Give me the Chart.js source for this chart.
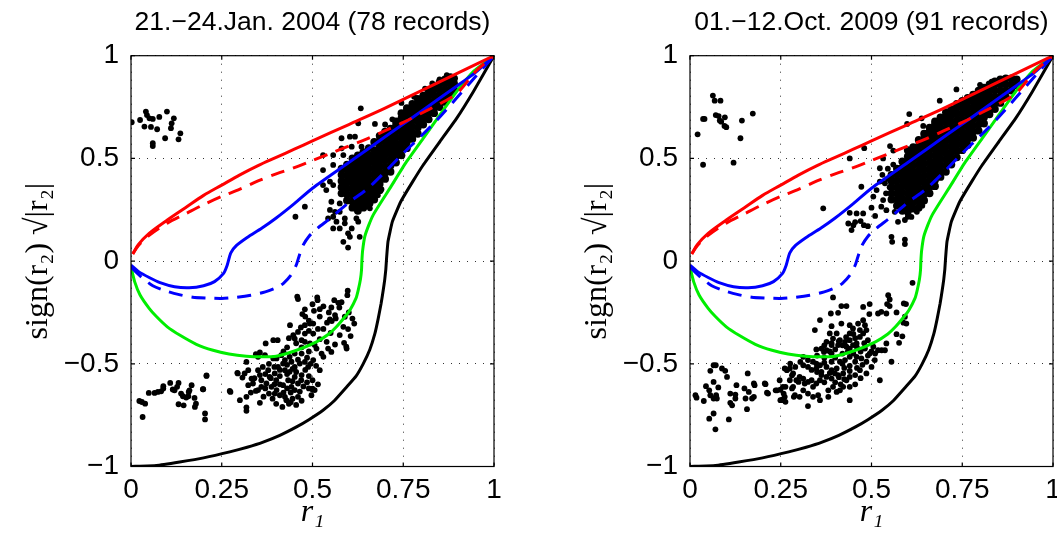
<!DOCTYPE html>
<html>
<head>
<meta charset="utf-8">
<script src="https://cdn.jsdelivr.net/npm/chart.js@4.4.0/dist/chart.umd.min.js"></script>
<style>
  html, body { margin: 0; padding: 0; width: 1057px; height: 534px; overflow: hidden; background: #fff; }
  .panel { position: absolute; top: 0; width: 530px; height: 534px; }
</style>
</head>
<body>
<div class="panel" style="left:0"><canvas id="jan" width="530" height="534"></canvas></div>
<div class="panel" style="left:559px"><canvas id="oct" width="530" height="534"></canvas></div>
<script>
// model curves (same on both panels), [r1, sign(r2)*sqrt|r2|]
const redSolid = [[0.005,0.035],[0.02,0.08],[0.05,0.135],[0.1,0.2],[0.15,0.26],[0.2,0.32],[0.25,0.37],[0.3,0.42],[0.35,0.465],[0.4,0.505],[0.45,0.545],[0.5,0.585],[0.6,0.665],[0.7,0.745],[0.8,0.83],[0.9,0.915],[1,1]];
const redDashed = [[0.005,0.035],[0.02,0.075],[0.05,0.125],[0.1,0.185],[0.15,0.23],[0.2,0.275],[0.25,0.315],[0.3,0.35],[0.35,0.39],[0.4,0.425],[0.45,0.455],[0.5,0.49],[0.55,0.525],[0.6,0.56],[0.65,0.595],[0.7,0.635],[0.75,0.675],[0.8,0.72],[0.85,0.765],[0.9,0.82],[0.95,0.925],[1,1]];
const blueSolid = [[0,-0.02],[0.02,-0.05],[0.05,-0.08],[0.08,-0.105],[0.12,-0.125],[0.16,-0.13],[0.2,-0.12],[0.23,-0.1],[0.255,-0.06],[0.265,-0.02],[0.275,0.04],[0.29,0.075],[0.32,0.115],[0.36,0.16],[0.4,0.21],[0.45,0.28],[0.5,0.355],[0.6,0.48],[0.7,0.605],[0.8,0.73],[0.9,0.855],[0.95,0.92],[1,1]];
const blueDashed = [[0,-0.03],[0.03,-0.08],[0.06,-0.12],[0.09,-0.142],[0.13,-0.162],[0.17,-0.176],[0.21,-0.18],[0.25,-0.182],[0.29,-0.176],[0.33,-0.166],[0.37,-0.15],[0.4,-0.13],[0.42,-0.108],[0.44,-0.07],[0.455,-0.02],[0.465,0.035],[0.475,0.08],[0.49,0.12],[0.51,0.155],[0.55,0.21],[0.6,0.285],[0.65,0.35],[0.7,0.435],[0.75,0.525],[0.8,0.61],[0.85,0.7],[0.9,0.8],[0.95,0.9],[1,1]];
const greenCurve = [[0,-0.03],[0.01,-0.1],[0.025,-0.165],[0.05,-0.23],[0.07,-0.27],[0.1,-0.32],[0.134,-0.36],[0.18,-0.405],[0.226,-0.434],[0.27,-0.452],[0.318,-0.463],[0.36,-0.466],[0.4,-0.463],[0.456,-0.434],[0.511,-0.393],[0.545,-0.355],[0.566,-0.32],[0.59,-0.27],[0.603,-0.239],[0.62,-0.18],[0.626,-0.141],[0.632,-0.09],[0.635,-0.044],[0.636,0],[0.638,0.05],[0.644,0.119],[0.655,0.175],[0.667,0.224],[0.69,0.29],[0.713,0.354],[0.759,0.484],[0.805,0.598],[0.851,0.712],[0.897,0.825],[0.943,0.923],[1,1]];
const blackCurve = [[0,-1],[0.07,-0.995],[0.134,-0.978],[0.2,-0.958],[0.272,-0.929],[0.32,-0.906],[0.364,-0.881],[0.41,-0.848],[0.456,-0.807],[0.49,-0.772],[0.529,-0.726],[0.56,-0.68],[0.594,-0.613],[0.62,-0.56],[0.64,-0.499],[0.658,-0.43],[0.672,-0.352],[0.681,-0.28],[0.689,-0.206],[0.695,-0.14],[0.699,-0.09],[0.702,-0.04],[0.704,0.013],[0.708,0.095],[0.72,0.192],[0.743,0.289],[0.776,0.387],[0.805,0.468],[0.851,0.582],[0.897,0.695],[0.943,0.825],[1,1]];

const xTicks = [0, 0.25, 0.5, 0.75, 1];
const yTicks = [-1, -0.5, 0, 0.5, 1];

// 21.-24. Jan 2004
const janUpperLeft = [[0.002,0.676],[0.025,0.687],[0.041,0.728],[0.044,0.711],[0.051,0.695],[0.06,0.692],[0.037,0.655],[0.055,0.653],[0.072,0.642],[0.078,0.702],[0.099,0.728],[0.118,0.695],[0.112,0.671],[0.11,0.647],[0.136,0.622],[0.131,0.593],[0.094,0.598],[0.06,0.574],[0.06,0.56]];
const janLowerLeft = [[0.023,-0.681],[0.03,-0.686],[0.039,-0.694],[0.032,-0.759],[0.049,-0.642],[0.065,-0.642],[0.074,-0.637],[0.083,-0.634],[0.089,-0.609],[0.089,-0.62],[0.108,-0.593],[0.115,-0.625],[0.12,-0.629],[0.131,-0.593],[0.127,-0.612],[0.138,-0.645],[0.143,-0.658],[0.152,-0.664],[0.158,-0.658],[0.161,-0.629],[0.159,-0.637],[0.167,-0.604],[0.131,-0.697],[0.145,-0.702],[0.175,-0.666],[0.179,-0.694],[0.176,-0.71],[0.198,-0.624],[0.208,-0.557],[0.204,-0.742],[0.204,-0.771]];
const janLower = [[0.46,-0.185],[0.514,-0.19],[0.479,-0.235],[0.472,-0.258],[0.504,-0.242],[0.52,-0.234],[0.552,-0.226],[0.571,-0.203],[0.574,-0.226],[0.596,-0.166],[0.562,-0.263],[0.564,-0.279],[0.548,-0.284],[0.553,-0.292],[0.589,-0.271],[0.615,-0.304],[0.585,-0.32],[0.598,-0.331],[0.605,-0.365],[0.587,-0.398],[0.594,-0.426],[0.562,-0.406],[0.539,-0.393],[0.543,-0.426],[0.552,-0.442],[0.525,-0.45],[0.53,-0.466],[0.511,-0.426],[0.506,-0.409],[0.438,-0.312],[0.468,-0.323],[0.479,-0.312],[0.493,-0.304],[0.502,-0.304],[0.479,-0.353],[0.502,-0.353],[0.447,-0.361],[0.451,-0.377],[0.47,-0.385],[0.479,-0.393],[0.493,-0.401],[0.371,-0.401],[0.392,-0.385],[0.404,-0.385],
  [0.344,-0.453],[0.35,-0.466],[0.369,-0.458],[0.355,-0.445],[0.318,-0.491],[0.323,-0.531],[0.293,-0.544],[0.313,-0.547],[0.307,-0.567],[0.208,-0.559],[0.199,-0.624],[0.272,-0.632],[0.3,-0.677],[0.318,-0.661],[0.318,-0.729],[0.344,-0.632],[0.336,-0.596],[0.323,-0.604],[0.332,-0.572],[0.359,-0.58],[0.355,-0.555],[0.378,-0.531],[0.382,-0.564],[0.396,-0.547],[0.405,-0.515],[0.419,-0.499],[0.424,-0.531],[0.437,-0.539],[0.451,-0.515],[0.465,-0.499],[0.479,-0.491],[0.488,-0.515],[0.502,-0.482],[0.451,-0.564],[0.46,-0.596],[0.469,-0.58],[0.433,-0.58],[0.442,-0.612],[0.419,-0.604],[0.401,-0.628],[0.396,-0.645],[0.41,-0.653],[0.424,-0.661],[0.428,-0.677],[0.417,-0.71],[0.451,-0.628],[0.46,-0.661],[0.387,-0.612],[0.373,-0.596],[0.414,-0.458],[0.401,-0.474],[0.392,-0.474],[0.437,-0.466],[0.451,-0.45],[0.47,-0.45],[0.424,-0.482],[0.442,-0.49],[0.497,-0.653],[0.506,-0.628],[0.52,-0.531],[0.363,-0.515],[0.35,-0.531],[0.359,-0.612],[0.35,-0.628],
  [0.37,-0.55],[0.385,-0.57],[0.4,-0.58],[0.41,-0.56],[0.43,-0.55],[0.445,-0.585],[0.455,-0.54],[0.47,-0.555],[0.48,-0.53],[0.49,-0.56],[0.475,-0.61],[0.485,-0.59],[0.44,-0.64],[0.43,-0.62],[0.41,-0.6],[0.395,-0.6],[0.38,-0.645],[0.365,-0.66],[0.39,-0.67],[0.4,-0.695],[0.435,-0.695],[0.445,-0.67],[0.465,-0.635],[0.47,-0.68],[0.455,-0.7],[0.38,-0.5],[0.395,-0.515],[0.41,-0.53],[0.43,-0.505],[0.445,-0.525],[0.46,-0.48],[0.485,-0.47],[0.51,-0.51],[0.495,-0.5],[0.34,-0.57],[0.33,-0.64],[0.355,-0.69],[0.37,-0.62],[0.42,-0.64],[0.5,-0.58],[0.515,-0.6],[0.49,-0.62],[0.5,-0.625],
  [0.274,-0.637],[0.294,-0.547],[0.318,-0.712],[0.44,-0.687],[0.5,-0.621],[0.593,-0.416],[0.597,-0.144],[0.513,-0.177],[0.458,-0.173],[0.58,-0.2],[0.56,-0.19],[0.53,-0.22],[0.5,-0.21],[0.545,-0.25],[0.6,-0.25],[0.61,-0.28],[0.52,-0.27],[0.53,-0.33],[0.55,-0.35],[0.575,-0.36],[0.52,-0.38],[0.49,-0.44],[0.47,-0.42],[0.455,-0.4],[0.43,-0.42],[0.42,-0.44],[0.435,-0.375],[0.46,-0.345],[0.49,-0.34],[0.515,-0.33],[0.48,-0.27],[0.49,-0.29],[0.54,-0.3]];
const janBlobCols = [
  [0.58,[0.33,0.36,0.39,0.42,0.45]],
  [0.595,[0.295,0.325,0.355,0.385,0.415,0.445,0.47]],
  [0.61,[0.26,0.29,0.32,0.35,0.38,0.41,0.44,0.47,0.5]],
  [0.625,[0.245,0.275,0.305,0.335,0.365,0.395,0.425,0.455,0.485,0.515]],
  [0.64,[0.26,0.29,0.32,0.35,0.38,0.41,0.44,0.47,0.5,0.53]],
  [0.655,[0.275,0.305,0.335,0.365,0.395,0.425,0.455,0.485,0.515,0.55]],
  [0.67,[0.3,0.33,0.36,0.39,0.42,0.45,0.48,0.51,0.54,0.58]],
  [0.685,[0.345,0.375,0.405,0.435,0.465,0.495,0.525,0.555,0.585,0.61]],
  [0.7,[0.4,0.43,0.46,0.49,0.52,0.55,0.58,0.61,0.63]],
  [0.715,[0.435,0.465,0.495,0.525,0.555,0.585,0.615,0.645]],
  [0.73,[0.48,0.51,0.54,0.57,0.6,0.63,0.66,0.68]],
  [0.745,[0.515,0.545,0.575,0.605,0.635,0.665,0.695,0.72]],
  [0.76,[0.55,0.58,0.61,0.64,0.67,0.7,0.73,0.745]],
  [0.775,[0.595,0.625,0.655,0.685,0.715,0.745,0.765]],
  [0.79,[0.62,0.65,0.68,0.71,0.74,0.77,0.79]],
  [0.805,[0.665,0.695,0.725,0.755,0.785,0.805]],
  [0.82,[0.69,0.72,0.75,0.78,0.81,0.83]],
  [0.835,[0.72,0.745,0.775,0.805,0.835,0.85]],
  [0.85,[0.75,0.78,0.81,0.84,0.87]],
  [0.865,[0.775,0.805,0.835,0.865,0.885]],
  [0.88,[0.81,0.84,0.87,0.895]],
  [0.89,[0.835,0.865,0.89]]
];
const janHalo = [[0.633,0.744],[0.626,0.671],[0.672,0.668],[0.603,0.606],[0.617,0.606],[0.58,0.598],[0.608,0.557],[0.635,0.557],[0.58,0.549],[0.529,0.516],[0.557,0.516],[0.585,0.516],[0.557,0.468],[0.529,0.443],[0.548,0.387],[0.529,0.37],[0.538,0.346],[0.557,0.37],[0.479,0.265],[0.453,0.216],[0.552,0.289],[0.575,0.281],[0.548,0.249],[0.562,0.24],[0.575,0.24],[0.543,0.208],[0.557,0.216],[0.589,0.208],[0.566,0.192],[0.589,0.184],[0.557,0.159],[0.575,0.159],[0.608,0.159],[0.598,0.135],[0.603,0.118],[0.585,0.094],[0.598,0.066],[0.63,0.118],[0.626,0.192],[0.621,0.208],[0.658,0.257],[0.745,0.77],[0.7,0.665],[0.72,0.69],[0.81,0.84],[0.78,0.8],[0.85,0.885],[0.87,0.905],[0.83,0.865],[0.66,0.28],[0.68,0.32],[0.69,0.35]];

// 01.-12. Oct 2009
const octUpperLeft = [[0.063,0.806],[0.068,0.781],[0.084,0.781],[0.036,0.692],[0.04,0.692],[0.071,0.711],[0.079,0.706],[0.082,0.684],[0.086,0.679],[0.096,0.7],[0.095,0.658],[0.1,0.652],[0.021,0.617],[0.143,0.684],[0.173,0.718],[0.139,0.598],[0.036,0.469],[0.12,0.479]];
const octLowerLeft = [[0.015,-0.653],[0.018,-0.665],[0.038,-0.681],[0.044,-0.609],[0.053,-0.629],[0.056,-0.534],[0.065,-0.507],[0.071,-0.507],[0.065,-0.588],[0.056,-0.653],[0.065,-0.669],[0.072,-0.653],[0.074,-0.669],[0.078,-0.615],[0.088,-0.523],[0.097,-0.534],[0.102,-0.564],[0.065,-0.742],[0.053,-0.767],[0.07,-0.819],[0.107,-0.771],[0.111,-0.69],[0.116,-0.702],[0.111,-0.645],[0.125,-0.65],[0.125,-0.669],[0.128,-0.604],[0.153,-0.669],[0.157,-0.721],[0.15,-0.62],[0.162,-0.637],[0.171,-0.669],[0.159,-0.547],[0.176,-0.596],[0.208,-0.599],[0.212,-0.641],[0.24,-0.629],[0.249,-0.626],[0.258,-0.645],[0.263,-0.612],[0.249,-0.677],[0.257,-0.672],[0.263,-0.685],[0.286,-0.661],[0.281,-0.62],[0.267,-0.531],[0.276,-0.499],[0.29,-0.515],[0.281,-0.556],[0.304,-0.491],[0.299,-0.588]];
const octLower = [[0.613,-0.106],[0.394,-0.177],[0.546,-0.166],[0.55,-0.187],[0.543,-0.209],[0.55,-0.219],[0.527,-0.247],[0.541,-0.255],[0.569,-0.25],[0.589,-0.206],[0.595,-0.209],[0.417,-0.219],[0.431,-0.219],[0.477,-0.223],[0.495,-0.209],[0.388,-0.255],[0.408,-0.252],[0.494,-0.258],[0.518,-0.255],[0.358,-0.287],[0.344,-0.336],[0.39,-0.317],[0.592,-0.271],[0.596,-0.304],[0.588,-0.3],[0.569,-0.356],[0.576,-0.398],[0.585,-0.366],
  [0.417,-0.304],[0.44,-0.312],[0.44,-0.352],[0.449,-0.328],[0.463,-0.304],[0.468,-0.336],[0.477,-0.288],[0.482,-0.312],[0.541,-0.401],[0.528,-0.434],[0.537,-0.434],[0.385,-0.352],[0.404,-0.352],[0.394,-0.377],[0.376,-0.393],[0.39,-0.409],[0.408,-0.409],[0.348,-0.43],[0.362,-0.426],[0.369,-0.442],[0.376,-0.434],[0.413,-0.385],[0.427,-0.393],[0.431,-0.417],[0.44,-0.426],[0.449,-0.409],[0.459,-0.401],[0.468,-0.369],[0.477,-0.352],[0.486,-0.336],[0.505,-0.417],[0.518,-0.434],[0.495,-0.45],[0.482,-0.426],
  [0.312,-0.466],[0.325,-0.482],[0.339,-0.49],[0.348,-0.499],[0.312,-0.507],[0.325,-0.515],[0.348,-0.523],[0.358,-0.507],[0.362,-0.539],[0.376,-0.515],[0.39,-0.531],[0.404,-0.523],[0.413,-0.49],[0.427,-0.482],[0.44,-0.466],[0.459,-0.466],[0.472,-0.474],[0.486,-0.49],[0.5,-0.515],[0.509,-0.482],
  [0.261,-0.523],[0.275,-0.523],[0.284,-0.547],[0.275,-0.58],[0.293,-0.58],[0.302,-0.564],[0.312,-0.572],[0.316,-0.596],[0.325,-0.588],[0.335,-0.58],[0.339,-0.612],[0.348,-0.596],[0.358,-0.58],[0.362,-0.555],[0.376,-0.564],[0.39,-0.572],[0.399,-0.547],[0.408,-0.555],[0.422,-0.547],[0.431,-0.58],[0.44,-0.564],
  [0.247,-0.58],[0.236,-0.629],[0.256,-0.612],[0.261,-0.661],[0.252,-0.677],[0.284,-0.612],[0.289,-0.653],[0.312,-0.629],[0.302,-0.661],[0.325,-0.645],[0.339,-0.661],[0.353,-0.653],[0.358,-0.677],[0.381,-0.629],[0.394,-0.612],[0.404,-0.637],[0.413,-0.629],[0.422,-0.612],[0.44,-0.612],[0.44,-0.677],[0.381,-0.661],[0.325,-0.706],[0.523,-0.58],[0.555,-0.49],[0.486,-0.547],[0.468,-0.531],[0.215,-0.645],[0.206,-0.596],[0.178,-0.604],[0.176,-0.661],
  [0.35,-0.46],[0.37,-0.47],[0.39,-0.45],[0.4,-0.47],[0.42,-0.45],[0.435,-0.44],[0.45,-0.45],[0.455,-0.49],[0.44,-0.51],[0.425,-0.52],[0.42,-0.5],[0.44,-0.535],[0.46,-0.52],[0.475,-0.505],[0.49,-0.46],[0.47,-0.44],[0.455,-0.375],[0.44,-0.385],[0.42,-0.41],[0.4,-0.43],[0.385,-0.44],[0.37,-0.41],[0.43,-0.37],[0.45,-0.355],[0.46,-0.42],[0.48,-0.4],[0.49,-0.385],[0.5,-0.44],[0.51,-0.45],[0.39,-0.49],[0.37,-0.495],[0.35,-0.54],[0.335,-0.53],[0.385,-0.545],[0.41,-0.565],[0.425,-0.575],[0.455,-0.555],[0.47,-0.57],[0.415,-0.6],[0.37,-0.59],[0.4,-0.59],[0.455,-0.6],[0.39,-0.4],[0.41,-0.39]];
const octBlobCols = [
  [0.555,[0.3,0.33,0.36,0.39,0.42]],
  [0.57,[0.27,0.3,0.33,0.36,0.39,0.42,0.45]],
  [0.585,[0.245,0.275,0.305,0.335,0.365,0.395,0.425,0.455,0.485]],
  [0.6,[0.24,0.27,0.3,0.33,0.36,0.39,0.42,0.45,0.48,0.51,0.54]],
  [0.615,[0.255,0.285,0.315,0.345,0.375,0.405,0.435,0.465,0.495,0.525,0.555]],
  [0.63,[0.26,0.29,0.32,0.35,0.38,0.41,0.44,0.47,0.5,0.53,0.56,0.59]],
  [0.645,[0.295,0.325,0.355,0.385,0.415,0.445,0.475,0.505,0.535,0.565,0.595,0.62]],
  [0.66,[0.33,0.36,0.39,0.42,0.45,0.48,0.51,0.54,0.57,0.6,0.63,0.65]],
  [0.675,[0.365,0.395,0.425,0.455,0.485,0.515,0.545,0.575,0.605,0.635,0.665,0.68]],
  [0.69,[0.41,0.44,0.47,0.5,0.53,0.56,0.59,0.62,0.65,0.68,0.7]],
  [0.705,[0.435,0.465,0.495,0.525,0.555,0.585,0.615,0.645,0.675,0.705,0.725]],
  [0.72,[0.47,0.5,0.53,0.56,0.59,0.62,0.65,0.68,0.71,0.74]],
  [0.735,[0.505,0.535,0.565,0.595,0.625,0.655,0.685,0.715,0.745,0.765]],
  [0.75,[0.54,0.57,0.6,0.63,0.66,0.69,0.72,0.75,0.78]],
  [0.765,[0.565,0.595,0.625,0.655,0.685,0.715,0.745,0.775,0.795]],
  [0.78,[0.6,0.63,0.66,0.69,0.72,0.75,0.78,0.81]],
  [0.795,[0.635,0.665,0.695,0.725,0.755,0.785,0.815,0.83]],
  [0.81,[0.67,0.7,0.73,0.76,0.79,0.82,0.845]],
  [0.825,[0.715,0.745,0.775,0.805,0.835,0.86]],
  [0.84,[0.74,0.77,0.8,0.83,0.86,0.875]],
  [0.855,[0.77,0.8,0.83,0.86,0.885]],
  [0.87,[0.8,0.83,0.86,0.89]],
  [0.885,[0.83,0.86,0.89]],
  [0.9,[0.855,0.885]]
];
const octHalo = [[0.734,0.836],[0.688,0.781],[0.604,0.716],[0.598,0.668],[0.638,0.695],[0.6425,0.658],[0.799,0.858],[0.831,0.874],[0.872,0.89],[0.44,0.5],[0.48,0.55],[0.551,0.56],[0.56,0.538],[0.532,0.5],[0.523,0.452],[0.545,0.45],[0.56,0.47],[0.472,0.362],[0.523,0.387],[0.537,0.379],[0.514,0.346],[0.505,0.314],[0.532,0.297],[0.527,0.265],[0.459,0.232],[0.477,0.232],[0.5,0.26],[0.436,0.183],[0.45,0.175],[0.445,0.151],[0.479,0.175],[0.541,0.248],[0.564,0.24],[0.573,0.191],[0.592,0.2],[0.6,0.216],[0.557,0.094],[0.592,0.083],[0.367,0.257],[0.44,0.235],[0.455,0.19],[0.47,0.195],[0.49,0.17],[0.51,0.22],[0.555,0.118],[0.592,0.105],[0.54,0.33],[0.55,0.36],[0.545,0.4],[0.53,0.42],[0.625,0.24],[0.64,0.27],[0.61,0.215]];

const toXY = arr => arr.map(([x, y]) => ({x, y}));
function blobPoints(cols) {
    const pts = [];
    cols.forEach(([x, ys]) => ys.forEach(y => pts.push({x, y})));
    return pts;
}
const fmt = v => (v < 0 ? '\u2212' : '') + Math.abs(v);

// box round the axes plus small inward ticks, like the original
const boxFrame = {
    id: 'boxFrame',
    afterDraw(chart) {
        const {ctx, chartArea: a, scales} = chart;
        ctx.save();
        ctx.strokeStyle = '#000';
        ctx.lineWidth = 1.2;
        ctx.strokeRect(a.left, a.top, a.right - a.left, a.bottom - a.top);
        ctx.beginPath();
        xTicks.forEach(v => {
            const px = scales.x.getPixelForValue(v);
            ctx.moveTo(px, a.bottom); ctx.lineTo(px, a.bottom - 4);
            ctx.moveTo(px, a.top); ctx.lineTo(px, a.top + 4);
        });
        yTicks.forEach(v => {
            const py = scales.y.getPixelForValue(v);
            ctx.moveTo(a.left, py); ctx.lineTo(a.left + 4, py);
            ctx.moveTo(a.right, py); ctx.lineTo(a.right - 4, py);
        });
        ctx.stroke();
        ctx.restore();
    }
};

function curve(points, color, dash, tension) {
    return {
        data: toXY(points),
        showLine: true,
        borderColor: color,
        borderWidth: 3,
        borderDash: dash,
        pointRadius: 0,
        tension: tension,
        order: 0
    };
}

function dots(points, radius) {
    return {
        data: points,
        backgroundColor: '#000',
        borderWidth: 0,
        pointRadius: radius,
        order: 1
    };
}

function createPanel(id_canvas, titleText, groups, blobCols) {
    const canvas = document.getElementById(id_canvas);
    const datasets = [
        curve(redSolid, '#ff0000', [], 0.3),
        curve(redDashed, '#ff0000', [14, 9], 0.3),
        curve(blueSolid, '#0000ff', [], 0.25),
        curve(blueDashed, '#0000ff', [14, 9], 0.25),
        curve(greenCurve, '#00ee00', [], 0.15),
        curve(blackCurve, '#000000', [], 0.12),
        dots(blobPoints(blobCols), 3.9),
        ...groups.map(g => dots(toXY(g), 2.9))
    ];

    new Chart(canvas.getContext('2d'), {
        type: 'scatter',
        data: { datasets },
        options: {
            responsive: false,
            animation: false,
            events: [],
            layout: { padding: { left: 0, right: 36, top: 0, bottom: 0 } },
            plugins: {
                legend: { display: false },
                tooltip: { enabled: false },
                title: {
                    display: true,
                    text: titleText,
                    fullSize: false,
                    color: '#000',
                    font: { family: 'Liberation Sans', size: 26.5, weight: 'normal' },
                    padding: { top: 7, bottom: 16.9 }
                }
            },
            scales: {
                x: {
                    type: 'linear',
                    min: 0, max: 1,
                    afterFit: scale => { scale.height = 67.5; },
                    afterBuildTicks: scale => { scale.ticks = xTicks.map(v => ({value: v})); },
                    ticks: {
                        callback: fmt, color: '#000', padding: 7, maxRotation: 0, autoSkip: false,
                        font: { family: 'Liberation Sans', size: 28 }
                    },
                    grid: { color: '#333', lineWidth: 1, drawTicks: false },
                    border: { display: false, dash: [1, 7] },
                    title: {
                        display: true, text: 'r\u2081', color: '#000',
                        font: { family: 'Liberation Serif', size: 32, style: 'italic' },
                        padding: { top: 0, bottom: 2 }
                    }
                },
                y: {
                    type: 'linear',
                    min: -1, max: 1,
                    afterFit: scale => { scale.width = 131; },
                    afterBuildTicks: scale => { scale.ticks = yTicks.map(v => ({value: v})); },
                    ticks: {
                        callback: fmt, color: '#000', padding: 12,
                        font: { family: 'Liberation Sans', size: 28 }
                    },
                    grid: { color: '#333', lineWidth: 1, drawTicks: false },
                    border: { display: false, dash: [1, 7] },
                    title: {
                        display: true, text: 'sign(r\u2082) \u221A|r\u2082|', color: '#000',
                        font: { family: 'Liberation Serif', size: 32 },
                        padding: { top: 19, bottom: 0 }
                    }
                }
            }
        },
        plugins: [boxFrame]
    });
}

createPanel('jan', '21.\u221224.Jan. 2004 (78 records)',
    [janUpperLeft, janLowerLeft, janLower, janHalo], janBlobCols);
createPanel('oct', '01.\u221212.Oct. 2009 (91 records)',
    [octUpperLeft, octLowerLeft, octLower, octHalo], octBlobCols);
</script>
</body>
</html>
